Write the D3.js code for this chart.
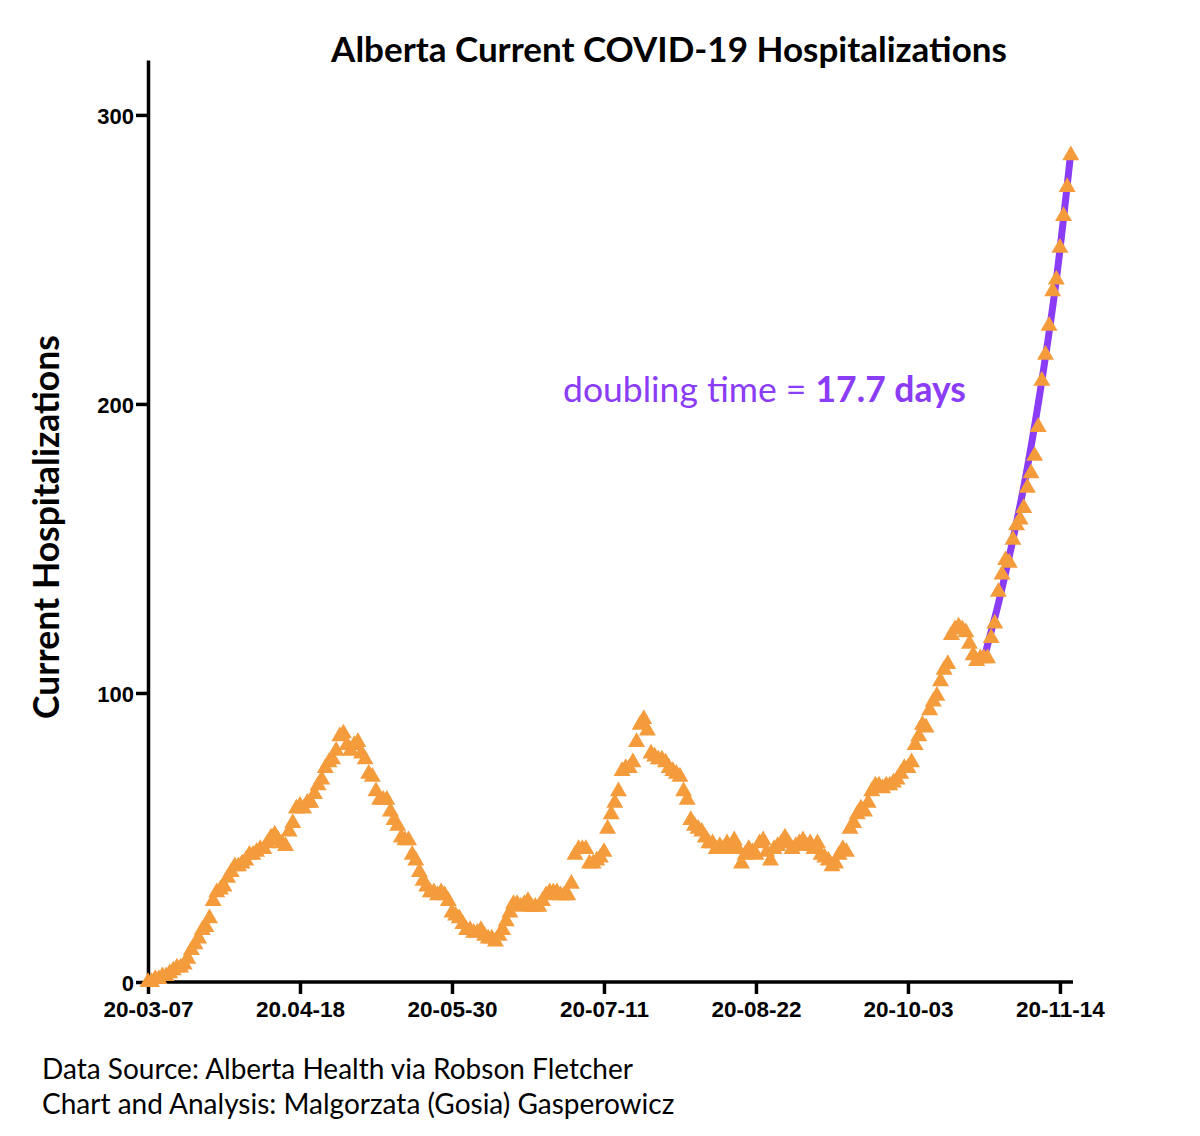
<!DOCTYPE html>
<html>
<head>
<meta charset="utf-8">
<script src="https://cdn.jsdelivr.net/npm/d3@7"></script>
<style>
  html, body { margin: 0; padding: 0; background: #ffffff; }
  svg { display: block; }
</style>
</head>
<body>
<svg id="chart" width="1200" height="1136"></svg>
<script>
// ---------------- DATA ----------------
const startDate = "2020-03-07";
const endDate = "2020-11-17";
// Daily current hospitalizations, one value per day starting 2020-03-07
const hospitalizations = [
  0,0,1,1,2,2,3,4,5,5,
  6,8,11,13,15,18,19,22,28,31,
  32,33,36,38,40,40,41,42,44,44,
  45,46,46,48,50,51,49,48,47,52,
  55,60,61,60,62,62,65,68,70,74,
  76,77,80,85,86,82,80,82,83,79,
  77,72,71,66,63,63,63,59,56,54,
  50,49,49,44,42,38,35,33,31,31,
  30,31,30,28,24,23,22,20,18,18,
  17,17,18,16,15,15,14,16,18,21,
  24,27,27,26,27,28,26,26,26,28,
  30,31,31,31,30,30,30,34,44,46,
  46,46,41,41,42,43,45,53,58,62,
  66,73,74,74,76,83,89,91,87,79,
  78,77,77,76,74,73,72,71,66,63,
  56,54,53,52,50,48,48,46,47,46,
  48,46,49,46,41,44,46,45,44,48,
  49,45,42,46,47,48,50,48,46,47,
  48,49,47,48,46,48,44,43,42,40,
  41,44,46,45,53,55,58,60,59,62,
  66,68,68,67,68,68,69,70,72,74,
  74,76,82,85,89,88,94,97,99,104,
  108,110,120,122,123,122,121,117,113,111,
  112,112,112,119,124,135,141,146,145,153,
  158,160,164,171,176,182,192,208,217,227,
  239,243,254,265,275,286
];
// Exponential fit (doubling time 17.7 days)
const fitDayIndex = [231, 235, 239, 243, 247, 251, 255];
const fitValues   = [112, 131, 153, 178, 208, 243, 287];
const xTickDates  = ["2020-03-07","2020-04-18","2020-05-30","2020-07-11","2020-08-22","2020-10-03","2020-11-14"];
const xTickLabels = ["20-03-07","20.04-18","20-05-30","20-07-11","20-08-22","20-10-03","20-11-14"];
const yTicks = [0, 100, 200, 300];
const titleText = "Alberta Current COVID-19 Hospitalizations";
const yLabelText = "Current Hospitalizations";
const annotationPrefix = "doubling time = ";
const annotationBold = "17.7 days";
const footerLines = ["Data Source: Alberta Health via Robson Fletcher",
                     "Chart and Analysis: Malgorzata (Gosia) Gasperowicz"];

// ---------------- SETUP ----------------
const parse = d3.utcParse("%Y-%m-%d");
const t0 = parse(startDate);
const dayMs = 86400000;
const points = hospitalizations.map((v, i) => ({ date: new Date(t0.getTime() + i * dayMs), value: v }));
const fit = fitDayIndex.map((d, i) => ({ date: new Date(t0.getTime() + d * dayMs), value: fitValues[i] }));

const svg = d3.select("#chart");
const orange = "#F49B3C";
const purple = "#8A3CF6";

const x = d3.scaleUtc().domain([parse(startDate), parse(endDate)]).range([148, 1070.8]);
const y = d3.scaleLinear().domain([0, 319]).range([982, 60]);

// ---------------- AXES ----------------
const yAxis = d3.axisLeft(y).tickValues(yTicks).tickSize(12).tickSizeOuter(0).tickPadding(2);
const yG = svg.append("g").attr("transform", "translate(148,0)").call(yAxis);
yG.select(".domain").attr("stroke", "#000").attr("stroke-width", 3.5);
yG.selectAll(".tick line").attr("stroke", "#000").attr("stroke-width", 3.5);
yG.selectAll(".tick text")
  .attr("font-family", "'Liberation Sans', Arial, sans-serif")
  .attr("font-weight", "bold").attr("font-size", 22).attr("fill", "#000")
  .attr("dy", "0.4em");

const xAxis = d3.axisBottom(x)
  .tickValues(xTickDates.map(parse))
  .tickFormat((d, i) => xTickLabels[i])
  .tickSize(12).tickSizeOuter(0).tickPadding(7);
const xG = svg.append("g").attr("transform", "translate(0,982)").call(xAxis);
xG.select(".domain").attr("stroke", "#000").attr("stroke-width", 3.5)
  .attr("d", "M" + (148 - 1.75) + ",0H1073");
xG.selectAll(".tick line").attr("stroke", "#000").attr("stroke-width", 3.5);
xG.selectAll(".tick text")
  .attr("font-family", "'Liberation Sans', Arial, sans-serif")
  .attr("font-weight", "bold").attr("font-size", 22.5).attr("fill", "#000");

// ---------------- FIT LINE ----------------
const line = d3.line().x(d => x(d.date)).y(d => y(d.value)).curve(d3.curveMonotoneX);
svg.append("path").datum(fit)
  .attr("d", line)
  .attr("fill", "none")
  .attr("stroke", purple)
  .attr("stroke-width", 7)
  .attr("stroke-linecap", "butt");

// ---------------- POINTS ----------------
const tri = d3.symbol().type(d3.symbolTriangle).size(125);
svg.append("g").selectAll("path").data(points).join("path")
  .attr("d", tri)
  .attr("transform", d => `translate(${x(d.date)},${y(d.value)})`)
  .attr("fill", orange);

// ---------------- TEXT ----------------
svg.append("text")
  .attr("x", 669).attr("y", 62)
  .attr("text-anchor", "middle")
  .attr("font-family", "Lato, 'Open Sans', sans-serif")
  .attr("font-weight", "bold").attr("font-size", 35).attr("fill", "#000")
  .text(titleText);

svg.append("text")
  .attr("transform", "translate(59,527) rotate(-90)")
  .attr("text-anchor", "middle")
  .attr("font-family", "Lato, 'Open Sans', sans-serif")
  .attr("font-weight", "bold").attr("font-size", 35.5).attr("fill", "#000")
  .text(yLabelText);

const ann = svg.append("text")
  .attr("x", 563).attr("y", 402)
  .attr("font-family", "Lato, 'Open Sans', sans-serif")
  .attr("font-size", 35.5).attr("fill", purple);
ann.append("tspan").text(annotationPrefix);
ann.append("tspan").attr("font-weight", "bold").text(annotationBold);

svg.append("g").selectAll("text").data(footerLines).join("text")
  .attr("x", 42).attr("y", (d, i) => 1079 + i * 35)
  .attr("font-family", "Lato, 'Open Sans', sans-serif")
  .attr("font-size", 28).attr("fill", "#000")
  .text(d => d);
</script>
</body>
</html>
